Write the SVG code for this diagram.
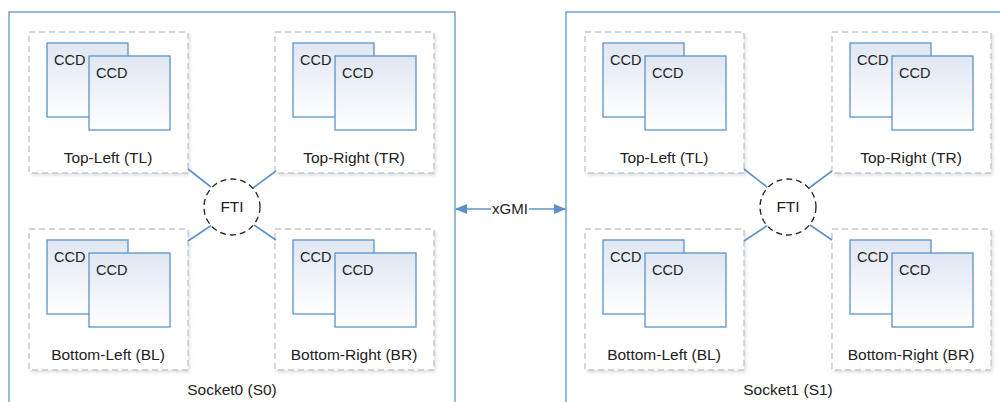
<svg xmlns="http://www.w3.org/2000/svg" width="1000" height="402" viewBox="0 0 1000 402">
  <style>
    .socket { fill: none; stroke: #5b93c9; stroke-width: 1.3; }
    .quad { fill: #ffffff; stroke: #c8c8c8; stroke-width: 1.4; stroke-dasharray: 6 4; filter: url(#shadow); }
    .ccd { fill: url(#ccdFill); stroke: #5b93c9; stroke-width: 1.3; }
    .fti { fill: #ffffff; stroke: #222222; stroke-width: 1.3; stroke-dasharray: 6 4; }
    .link { stroke: #5b93c9; stroke-width: 1.6; fill: none; }
    text { font-family: "Liberation Sans", Arial, sans-serif; fill: #222222; }
    .lbl { font-size: 15.5px; text-anchor: middle; }
    .ccdt { font-size: 14.5px; }
  </style>
  <defs>
    <linearGradient id="ccdFill" x1="0" y1="0" x2="0" y2="1">
      <stop offset="0" stop-color="#dfe7f3"/>
      <stop offset="1" stop-color="#ffffff"/>
    </linearGradient>
    <filter id="shadow" x="-5%" y="-5%" width="115%" height="115%">
      <feDropShadow dx="1.5" dy="2" stdDeviation="1.5" flood-color="#9aa8b8" flood-opacity="0.35"/>
    </filter>
    <marker id="arrow" viewBox="0 0 12 10" refX="11" refY="5" markerWidth="12" markerHeight="10" markerUnits="userSpaceOnUse" orient="auto-start-reverse">
      <path d="M0,0 L12,5 L0,10 z" fill="#5b93c9"/>
    </marker>
    <!-- one quadrant: two stacked CCDs -->
    <g id="ccdPair">
      <rect class="ccd" x="18" y="11" width="81" height="74"/>
      <text class="ccdt" x="25" y="33">CCD</text>
      <rect class="ccd" x="60" y="24" width="81" height="74"/>
      <text class="ccdt" x="67" y="46">CCD</text>
    </g>
  </defs>

  <!-- Socket 0 -->
  <g id="socket0">
    <rect class="socket" x="9" y="12" width="446" height="420"/>
    <text class="lbl" x="232" y="395">Socket0 (S0)</text>
  </g>
  <g id="s0-tl">
    <rect class="quad" x="29" y="32" width="159" height="141"/>
    <use href="#ccdPair" x="29" y="32"/>
    <text class="lbl" x="108" y="163">Top-Left (TL)</text>
  </g>
  <g id="s0-tr">
    <rect class="quad" x="275" y="32" width="159" height="141"/>
    <use href="#ccdPair" x="275" y="32"/>
    <text class="lbl" x="354" y="163">Top-Right (TR)</text>
  </g>
  <g id="s0-bl">
    <rect class="quad" x="29" y="229" width="159" height="141"/>
    <use href="#ccdPair" x="29" y="229"/>
    <text class="lbl" x="108" y="360">Bottom-Left (BL)</text>
  </g>
  <g id="s0-br">
    <rect class="quad" x="275" y="229" width="159" height="141"/>
    <use href="#ccdPair" x="275" y="229"/>
    <text class="lbl" x="354" y="360">Bottom-Right (BR)</text>
  </g>

  <!-- Socket 1 -->
  <g id="socket1">
    <rect class="socket" x="566" y="12" width="446" height="420"/>
    <text class="lbl" x="788" y="395">Socket1 (S1)</text>
  </g>
  <g id="s1-tl">
    <rect class="quad" x="585" y="32" width="159" height="141"/>
    <use href="#ccdPair" x="585" y="32"/>
    <text class="lbl" x="664" y="163">Top-Left (TL)</text>
  </g>
  <g id="s1-tr">
    <rect class="quad" x="832" y="32" width="159" height="141"/>
    <use href="#ccdPair" x="832" y="32"/>
    <text class="lbl" x="911" y="163">Top-Right (TR)</text>
  </g>
  <g id="s1-bl">
    <rect class="quad" x="585" y="229" width="159" height="141"/>
    <use href="#ccdPair" x="585" y="229"/>
    <text class="lbl" x="664" y="360">Bottom-Left (BL)</text>
  </g>
  <g id="s1-br">
    <rect class="quad" x="832" y="229" width="159" height="141"/>
    <use href="#ccdPair" x="832" y="229"/>
    <text class="lbl" x="911" y="360">Bottom-Right (BR)</text>
  </g>

  <!-- connectors: quadrant links to FTI and the xGMI socket link -->
  <g id="connectors">
    <line class="link" x1="188" y1="169" x2="211" y2="187"/>
    <line class="link" x1="276" y1="171" x2="253" y2="188"/>
    <line class="link" x1="188" y1="241" x2="212" y2="225"/>
    <line class="link" x1="276" y1="240" x2="254" y2="225"/>
    <line class="link" x1="744" y1="169" x2="767" y2="187"/>
    <line class="link" x1="832" y1="171" x2="809" y2="188"/>
    <line class="link" x1="744" y1="241" x2="768" y2="225"/>
    <line class="link" x1="832" y1="240" x2="810" y2="225"/>
    <line class="link" x1="456" y1="209" x2="491" y2="209" marker-start="url(#arrow)"/>
    <line class="link" x1="529" y1="209" x2="565" y2="209" marker-end="url(#arrow)"/>
    <text x="510" y="214" font-size="15" text-anchor="middle">xGMI</text>
  </g>

  <g id="s0-fti">
    <circle class="fti" cx="232" cy="207" r="28"/>
    <text class="lbl" x="232" y="212">FTI</text>
  </g>
  <g id="s1-fti">
    <circle class="fti" cx="788" cy="207" r="28"/>
    <text class="lbl" x="788" y="212">FTI</text>
  </g>
</svg>
